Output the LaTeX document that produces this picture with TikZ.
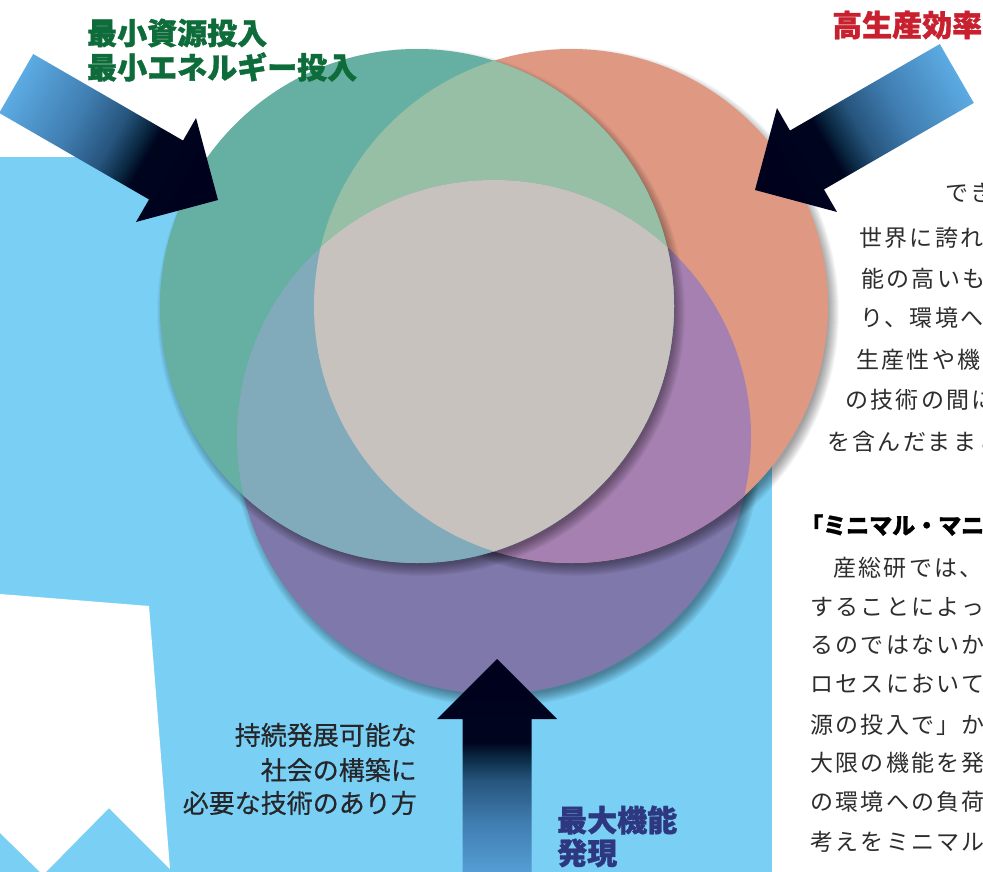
\documentclass[tikz,border=0pt]{standalone}
\usepackage{fontspec}
\newfontfamily\jp{Noto Sans CJK JP}[BoldFeatures={FakeBold=1.2}]
\newfontfamily\jpmed{Noto Sans CJK JP}[FakeBold=0.5]
\newfontfamily\jpbody{Noto Sans CJK JP}[LetterSpace=10]
\usetikzlibrary{calc}
\definecolor{bgblue}{RGB}{122,208,244}
\definecolor{cG}{RGB}{101,176,162}
\definecolor{cS}{RGB}{223,153,131}
\definecolor{cP}{RGB}{127,120,170}
\definecolor{cGS}{RGB}{151,191,165}
\definecolor{cGP}{RGB}{129,171,186}
\definecolor{cSP}{RGB}{165,128,176}
\definecolor{cGSP}{RGB}{200,194,191}
\definecolor{lblgreen}{RGB}{14,108,58}
\definecolor{lblred}{RGB}{200,32,46}
\definecolor{lblnavy}{RGB}{46,56,128}
\definecolor{lblgray}{RGB}{38,38,42}
\definecolor{txt}{RGB}{45,45,45}
\pgfdeclarehorizontalshading{arrowshade}{100bp}{rgb(0bp)=(0.36,0.67,0.89); rgb(25bp)=(0.36,0.67,0.89); rgb(40bp)=(0.25,0.49,0.69); rgb(49bp)=(0.15,0.33,0.49); rgb(54bp)=(0.04,0.16,0.26); rgb(57bp)=(0,0.02,0.12); rgb(75bp)=(0,0,0.11); rgb(100bp)=(0,0,0.11)}
\newcommand\circshadow[1]{\foreach \k in {0,...,11}{\fill[black,opacity=0.035] ($(#1)+(4,6)$) circle ({264pt-\k pt});}}
\begin{document}
\begin{tikzpicture}[x=1pt,y=-1pt,
  lbl/.style={font=\jp\bfseries\fontsize{30}{34}\selectfont, inner sep=0pt, anchor=west},
  body/.style={font=\jpbody\fontsize{23}{28}\selectfont, text=txt, inner sep=0pt, anchor=west},
  head/.style={font=\jp\bfseries\fontsize{23}{28}\selectfont, text=black, inner sep=0pt, anchor=west},
  sub/.style={font=\jpmed\fontsize{26}{33}\selectfont, text=lblgray, inner sep=0pt, anchor=east},
  bigarrow/.style={shading=arrowshade}]
\useasboundingbox (0,0) rectangle (983,872);
\clip (0,0) rectangle (983,872);
\fill[white] (0,0) rectangle (983,872);
\fill[bgblue] (0,157) rectangle (772,872);
\fill[white] (0,594) -- (149,606) -- (170,869) -- (109,808) -- (46,872) -- (40,872) -- (0,833) -- cycle;
\def\R{257pt}
\coordinate (G) at (417,306);
\coordinate (S) at (571,306);
\coordinate (P) at (494,437);
% outer shadows
\circshadow{P}\circshadow{S}\circshadow{G}
% purple
\fill[cP] (P) circle (\R);
\begin{scope}\clip (P) circle (\R); \circshadow{S}\end{scope}
% salmon
\fill[cS] (S) circle (\R);
\begin{scope}\clip (S) circle (\R); \fill[cSP] (P) circle (\R);\end{scope}
% green shadow on purple and salmon
\begin{scope}\clip (P) circle (\R); \circshadow{G}\end{scope}
\begin{scope}[even odd rule]\clip (S) circle (\R); \clip (0,0) rectangle (983,872) (P) circle (\R); \circshadow{G}\end{scope}
% green
\fill[cG] (G) circle (\R);
\begin{scope}\clip (G) circle (\R);
  \fill[cGS] (S) circle (\R);
  \fill[cGP] (P) circle (\R);
  \clip (S) circle (\R);
  \fill[cGSP] (P) circle (\R);
\end{scope}
% arrows
\begin{scope}[transform canvas={shift={(218,200)},rotate=-30}]
  \shade[bigarrow] (-233,-34) -- (-60,-34) -- (-60,-60) -- (0,0) -- (-60,60) -- (-60,34) -- (-233,34) -- cycle;
\end{scope}
\begin{scope}[transform canvas={shift={(755,190)},rotate=210}]
  \shade[bigarrow] (-233,-34) -- (-60,-34) -- (-60,-60) -- (0,0) -- (-60,60) -- (-60,34) -- (-233,34) -- cycle;
\end{scope}
\begin{scope}[transform canvas={shift={(497,659)},rotate=90}]
  \shade[bigarrow] (-233,-34.5) -- (-60,-34.5) -- (-60,-60) -- (0,0) -- (-60,60) -- (-60,34.5) -- (-233,34.5) -- cycle;
\end{scope}
% labels
\node[lbl, text=lblgreen] (l1) at (87,33) {最小資源投入};
\node[lbl, text=lblgreen] (l2) at (87,67) {最小エネルギー投入};
\node[lbl, text=lblred] (l3) at (832,25) {高生産効率};
\node[lbl, text=lblnavy] (l4) at (557,820) {最大機能};
\node[lbl, text=lblnavy] (l5) at (557,853) {発現};
\node[sub] (s1) at (417,735) {持続発展可能な};
\node[sub] (s2) at (417,770) {社会の構築に};
\node[sub] (s3) at (417,803) {必要な技術のあり方};
% body text upper
\node[body] (t1) at (945,193) {でき};
\node[body] (t2) at (859,238) {世界に誇れる};
\node[body] (t3) at (861,279) {能の高いも};
\node[body] (t4) at (860,318) {り、環境へ};
\node[body] (t5) at (856,360) {生産性や機能};
\node[body] (t6) at (845,400) {の技術の間に};
\node[body] (t7) at (827,442) {を含んだままと};
% body text lower
\node[head] (h1) at (800,525) {「ミニマル・マニ};
\node[body] (b1) at (833,568) {産総研では、};
\node[body] (b2) at (810,607) {することによって};
\node[body] (b3) at (810,645) {るのではないか};
\node[body] (b4) at (810,684) {ロセスにおいて};
\node[body] (b5) at (810,725) {源の投入で」か};
\node[body] (b6) at (810,763) {大限の機能を発};
\node[body] (b7) at (810,802) {の環境への負荷};
\node[body] (b8) at (810,842) {考えをミニマル};
\end{tikzpicture}
\end{document}
